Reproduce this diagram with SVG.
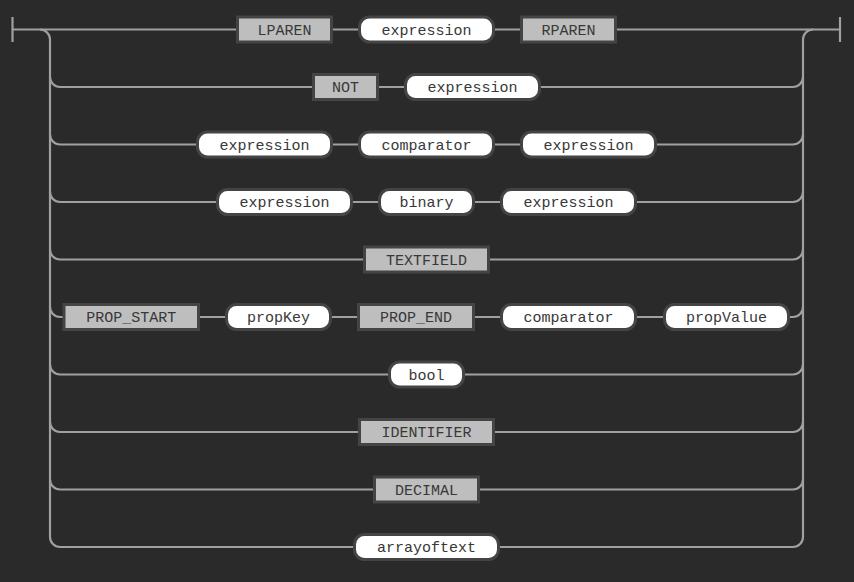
<svg xmlns="http://www.w3.org/2000/svg" width="854" height="582" viewBox="0 0 854 582">
<style>
.bg{fill:#2a2a2a}
.ln{fill:none;stroke:#a0a0a0;stroke-width:2.2}
.t rect{fill:#bebebe;stroke:#444;stroke-width:3}
.n rect{fill:#ffffff;stroke:#444;stroke-width:3}
text{font-family:"Liberation Mono","Courier New",monospace;font-size:15px;fill:#383838;text-anchor:middle;dominant-baseline:central}
</style>
<rect class="bg" x="0" y="0" width="854" height="582"/>
<g id="connectors" class="ln">
<path d="M12.5 17V42M840 17V42"/>
<path d="M12.5 29.5H236M333 29.5H358M495 29.5H520M617 29.5H840"/>
<path d="M40 29.5a10 10 0 0 1 10 10V537a10 10 0 0 0 10 10H353M500 547H793a10 10 0 0 0 10-10V39.5a10 10 0 0 1 10-10"/>
<path d="M50 77a10 10 0 0 0 10 10H312M379 87H404M541 87H793a10 10 0 0 0 10-10"/>
<path d="M50 134.5a10 10 0 0 0 10 10H196M333 144.5H358M495 144.5H520M657 144.5H793a10 10 0 0 0 10-10"/>
<path d="M50 192a10 10 0 0 0 10 10H216M353 202H378M475 202H500M637 202H793a10 10 0 0 0 10-10"/>
<path d="M50 249.5a10 10 0 0 0 10 10H363M490 259.5H793a10 10 0 0 0 10-10"/>
<path d="M50 307a10 10 0 0 0 10 10H63M200 317H225M332 317H357M475 317H500M637 317H663M790 317H793a10 10 0 0 0 10-10"/>
<path d="M50 364.5a10 10 0 0 0 10 10H388M465 374.5H793a10 10 0 0 0 10-10"/>
<path d="M50 422a10 10 0 0 0 10 10H358M495 432H793a10 10 0 0 0 10-10"/>
<path d="M50 479.5a10 10 0 0 0 10 10H373M480 489.5H793a10 10 0 0 0 10-10"/>
</g>
<g id="r1-lparen" class="t"><rect x="237.5" y="17" width="94" height="25"/><text x="284.5" y="31">LPAREN</text></g>
<g id="r1-expression" class="n"><rect x="359.5" y="17" width="134" height="25" rx="10"/><text x="426.5" y="31">expression</text></g>
<g id="r1-rparen" class="t"><rect x="521.5" y="17" width="94" height="25"/><text x="568.5" y="31">RPAREN</text></g>
<g id="r2-not" class="t"><rect x="313.5" y="74.5" width="64" height="25"/><text x="345.5" y="88.5">NOT</text></g>
<g id="r2-expression" class="n"><rect x="405.5" y="74.5" width="134" height="25" rx="10"/><text x="472.5" y="88.5">expression</text></g>
<g id="r3-expression1" class="n"><rect x="197.5" y="132" width="134" height="25" rx="10"/><text x="264.5" y="146">expression</text></g>
<g id="r3-comparator" class="n"><rect x="359.5" y="132" width="134" height="25" rx="10"/><text x="426.5" y="146">comparator</text></g>
<g id="r3-expression2" class="n"><rect x="521.5" y="132" width="134" height="25" rx="10"/><text x="588.5" y="146">expression</text></g>
<g id="r4-expression1" class="n"><rect x="217.5" y="189.5" width="134" height="25" rx="10"/><text x="284.5" y="203.5">expression</text></g>
<g id="r4-binary" class="n"><rect x="379.5" y="189.5" width="94" height="25" rx="10"/><text x="426.5" y="203.5">binary</text></g>
<g id="r4-expression2" class="n"><rect x="501.5" y="189.5" width="134" height="25" rx="10"/><text x="568.5" y="203.5">expression</text></g>
<g id="r5-textfield" class="t"><rect x="364.5" y="247" width="124" height="25"/><text x="426.5" y="261">TEXTFIELD</text></g>
<g id="r6-prop-start" class="t"><rect x="64" y="304.5" width="134.5" height="25"/><text x="131.25" y="318.5">PROP_START</text></g>
<g id="r6-propkey" class="n"><rect x="226.5" y="304.5" width="104" height="25" rx="10"/><text x="278.5" y="318.5">propKey</text></g>
<g id="r6-prop-end" class="t"><rect x="358.5" y="304.5" width="115" height="25"/><text x="416" y="318.5">PROP_END</text></g>
<g id="r6-comparator" class="n"><rect x="501.5" y="304.5" width="134" height="25" rx="10"/><text x="568.5" y="318.5">comparator</text></g>
<g id="r6-propvalue" class="n"><rect x="664.5" y="304.5" width="124" height="25" rx="10"/><text x="726.5" y="318.5">propValue</text></g>
<g id="r7-bool" class="n"><rect x="389.5" y="362" width="74" height="25" rx="10"/><text x="426.5" y="376">bool</text></g>
<g id="r8-identifier" class="t"><rect x="359.5" y="419.5" width="134" height="25"/><text x="426.5" y="433.5">IDENTIFIER</text></g>
<g id="r9-decimal" class="t"><rect x="374.5" y="477" width="104" height="25"/><text x="426.5" y="491">DECIMAL</text></g>
<g id="r10-arrayoftext" class="n"><rect x="354.5" y="534.5" width="144" height="25" rx="10"/><text x="426.5" y="548.5">arrayoftext</text></g>
</svg>
